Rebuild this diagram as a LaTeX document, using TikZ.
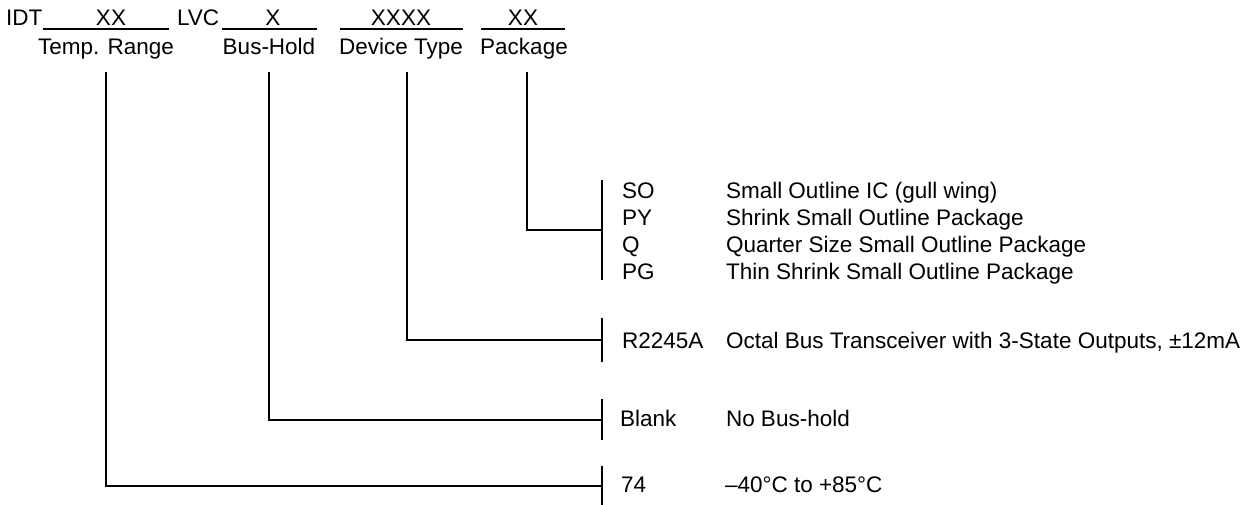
\documentclass[tikz,border=0pt]{standalone}
\usepackage{fontspec}
\setmainfont{Liberation Sans}
\usetikzlibrary{positioning}

\begin{document}
\begin{tikzpicture}[x=1pt,y=-1pt,
        every node/.style={inner sep=0pt,outer sep=0pt,font=\fontsize{22.5}{27}\selectfont},
        rule/.style={line width=1.1pt},
        field/.style={anchor=base},
        code/.style={anchor=base west},
        ]
        \useasboundingbox (0,0) rectangle (1256,504);
        % part number row
        \node[code] (idt) at (6,25) {IDT};
        \node[field] (xxtemp) at (111,25) {XX};
        \node[code] (lvc) at (177,25) {LVC};
        \node[field] (xhold) at (273,25) {X};
        \node[field] (xxxx) at (401,25) {XXXX};
        \node[field] (xxpkg) at (523,25) {XX};
        \draw[rule] (43,29) -- (169,29);
        \draw[rule] (222,29) -- (317,29);
        \draw[rule] (340,29) -- (463,29);
        \draw[rule] (481,29) -- (565,29);
        % field names
        \node[field] (temp) at (106,54) {Temp. Range};
        \node[field] (hold) at (269,54) {Bus-Hold};
        \node[field] (dev) at (401,54) {Device Type};
        \node[field] (pkg) at (524,54) {Package};
        \coordinate (temptop) at (106,72);
        \coordinate (holdtop) at (269,72);
        \coordinate (devtop) at (407,72);
        \coordinate (pkgtop) at (527,72);
        % brackets
        \coordinate (pkgbr) at (602,230);
        \coordinate (devbr) at (602,340);
        \coordinate (holdbr) at (602,420);
        \coordinate (tempbr) at (602,486);
        \draw[rule] (602,180) -- (602,280);
        \draw[rule] (602,318) -- (602,362);
        \draw[rule] (602,399) -- (602,440);
        \draw[rule] (602,466) -- (602,506);
        \draw[rule] (pkgtop) |- (pkgbr);
        \draw[rule] (devtop) |- (devbr);
        \draw[rule] (holdtop) |- (holdbr);
        \draw[rule] (temptop) |- (tempbr);
        % package codes
        \node[code] (so) at (622,198) {SO};
        \node[code] (py) at (622,225) {PY};
        \node[code] (q) at (622,252) {Q};
        \node[code] (pg) at (622,279) {PG};
        \node[code] (sodesc) at (726,198) {Small Outline IC (gull wing)};
        \node[code] (pydesc) at (726,225) {Shrink Small Outline Package};
        \node[code] (qdesc) at (726,252) {Quarter Size Small Outline Package};
        \node[code] (pgdesc) at (726,279) {Thin Shrink Small Outline Package};
        % device, bus-hold, temperature
        \node[code] (r2245a) at (622,348) {R2245A};
        \node[code] (devdesc) at (726,348) {Octal Bus Transceiver with 3-State Outputs, ±12mA};
        \node[code] (blank) at (620,426) {Blank};
        \node[code] (holddesc) at (726,426) {No Bus-hold};
        \node[code] (c74) at (621,492) {74};
        \node[code] (tempdesc) at (725,492) {–40°C to +85°C};
\end{tikzpicture}
\end{document}
